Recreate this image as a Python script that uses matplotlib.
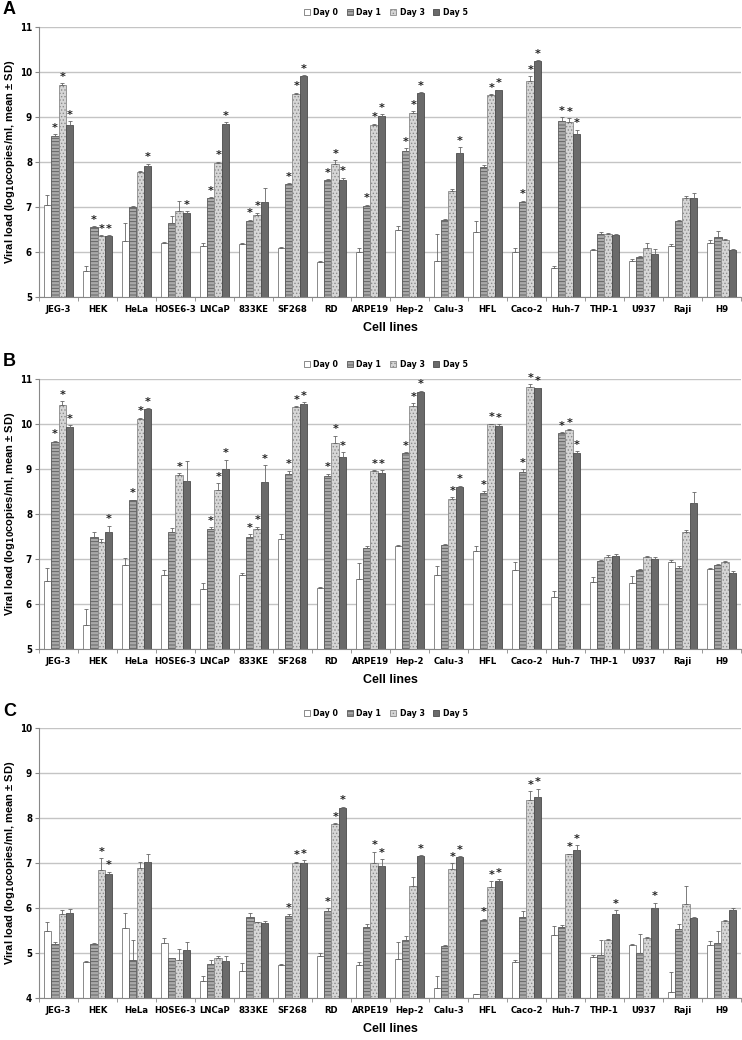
import matplotlib
matplotlib.use("Agg")
import matplotlib.pyplot as plt
import numpy as np

plt.rcParams['hatch.linewidth'] = 0.6

# Data
cell_lines = ["JEG-3", "HEK", "HeLa", "HOSE6-3", "LNCaP", "833KE", "SF268", "RD", "ARPE19",
              "Hep-2", "Calu-3", "HFL", "Caco-2", "Huh-7", "THP-1", "U937", "Raji", "H9"]
days = ["Day 0", "Day 1", "Day 3", "Day 5"]

# Panel A: means (Day 0, 1, 3, 5) per cell line
a_mean = [[7.05, 8.58, 9.72, 8.82], [5.57, 6.55, 6.36, 6.36], [6.24, 6.99, 7.78, 7.91],
          [6.20, 6.64, 6.92, 6.86], [6.13, 7.20, 7.98, 8.84], [6.17, 6.70, 6.82, 7.11],
          [6.10, 7.51, 9.52, 9.92], [5.77, 7.59, 7.96, 7.60], [6.00, 7.03, 8.82, 9.03],
          [6.48, 8.25, 9.10, 9.53], [5.80, 6.72, 7.36, 8.21], [6.44, 7.90, 9.48, 9.59],
          [6.00, 7.12, 9.80, 10.24], [5.65, 8.90, 8.89, 8.62], [6.05, 6.41, 6.40, 6.37],
          [5.79, 5.90, 6.10, 5.96], [6.13, 6.69, 7.21, 7.21], [6.20, 6.34, 6.27, 6.05]]
a_err = [[0.22, 0.04, 0.03, 0.08], [0.12, 0.03, 0.02, 0.02], [0.40, 0.03, 0.02, 0.05],
         [0.03, 0.16, 0.22, 0.05], [0.08, 0.02, 0.03, 0.05], [0.02, 0.02, 0.05, 0.32],
         [0.02, 0.02, 0.02, 0.01], [0.04, 0.03, 0.08, 0.05], [0.08, 0.02, 0.03, 0.03],
         [0.09, 0.06, 0.03, 0.02], [0.60, 0.02, 0.03, 0.12], [0.26, 0.03, 0.03, 0.02],
         [0.08, 0.02, 0.10, 0.02], [0.03, 0.10, 0.08, 0.10], [0.02, 0.03, 0.03, 0.02],
         [0.06, 0.02, 0.10, 0.10], [0.05, 0.02, 0.03, 0.10], [0.07, 0.12, 0.02, 0.02]]
a_star = [[0, 1, 1, 1], [0, 1, 1, 1], [0, 0, 0, 1], [0, 0, 0, 1], [0, 1, 1, 1], [0, 1, 1, 0],
          [0, 1, 1, 1], [0, 1, 1, 1], [0, 1, 1, 1], [0, 1, 1, 1], [0, 0, 0, 1], [0, 0, 1, 1],
          [0, 1, 1, 1], [0, 1, 1, 1], [0, 0, 0, 0], [0, 0, 0, 0], [0, 0, 0, 0], [0, 0, 0, 0]]

# Panel B
b_mean = [[6.52, 9.60, 10.43, 9.93], [5.53, 7.50, 7.37, 7.61], [6.87, 8.30, 10.12, 10.33],
          [6.65, 7.60, 8.86, 8.74], [6.33, 7.66, 8.54, 8.99], [6.64, 7.50, 7.67, 8.72],
          [7.45, 8.90, 10.37, 10.45], [6.35, 8.85, 9.57, 9.26], [6.55, 7.25, 8.96, 8.92],
          [7.29, 9.35, 10.40, 10.72], [6.64, 7.31, 8.33, 8.60], [7.18, 8.46, 9.99, 9.96],
          [6.76, 8.94, 10.83, 10.79], [6.15, 9.80, 9.87, 9.35], [6.49, 6.96, 7.05, 7.06],
          [6.47, 6.76, 7.05, 7.00], [6.93, 6.80, 7.61, 8.24], [6.77, 6.87, 6.93, 6.70]]
b_err = [[0.28, 0.03, 0.08, 0.05], [0.37, 0.10, 0.07, 0.13], [0.15, 0.02, 0.02, 0.02],
         [0.10, 0.10, 0.05, 0.43], [0.13, 0.05, 0.15, 0.22], [0.04, 0.05, 0.05, 0.36],
         [0.10, 0.06, 0.02, 0.04], [0.02, 0.05, 0.17, 0.12], [0.37, 0.03, 0.02, 0.05],
         [0.02, 0.02, 0.06, 0.02], [0.20, 0.02, 0.04, 0.03], [0.12, 0.05, 0.02, 0.03],
         [0.18, 0.05, 0.06, 0.02], [0.15, 0.02, 0.02, 0.04], [0.10, 0.02, 0.03, 0.05],
         [0.15, 0.02, 0.02, 0.04], [0.05, 0.05, 0.03, 0.25], [0.02, 0.03, 0.02, 0.04]]
b_star = [[0, 1, 1, 1], [0, 0, 0, 1], [0, 1, 1, 1], [0, 0, 1, 0], [0, 1, 1, 1], [0, 1, 1, 1],
          [0, 1, 1, 1], [0, 1, 1, 1], [0, 0, 1, 1], [0, 1, 1, 1], [0, 0, 1, 1], [0, 1, 1, 1],
          [0, 1, 1, 1], [0, 1, 1, 1], [0, 0, 0, 0], [0, 0, 0, 0], [0, 0, 0, 0], [0, 0, 0, 0]]

# Panel C
c_mean = [[5.48, 5.20, 5.86, 5.88], [4.81, 5.20, 6.84, 6.76], [5.56, 4.85, 6.88, 7.03],
          [5.23, 4.88, 4.85, 5.07], [4.37, 4.76, 4.88, 4.83], [4.59, 5.79, 5.68, 5.66],
          [4.74, 5.82, 7.01, 7.00], [4.93, 5.94, 7.87, 8.23], [4.74, 5.58, 7.00, 6.93],
          [4.87, 5.28, 6.48, 7.16], [4.23, 5.16, 6.87, 7.13], [4.08, 5.74, 6.47, 6.61],
          [4.79, 5.80, 8.41, 8.47], [5.41, 5.57, 7.19, 7.30], [4.92, 4.95, 5.30, 5.87],
          [5.18, 4.99, 5.34, 6.00], [4.13, 5.54, 6.09, 5.77], [5.17, 5.23, 5.71, 5.95]]
c_err = [[0.20, 0.05, 0.10, 0.10], [0.02, 0.02, 0.27, 0.05], [0.32, 0.43, 0.15, 0.18],
         [0.10, 0.02, 0.25, 0.17], [0.12, 0.08, 0.05, 0.10], [0.18, 0.10, 0.02, 0.06],
         [0.02, 0.04, 0.02, 0.06], [0.08, 0.05, 0.02, 0.02], [0.05, 0.07, 0.25, 0.15],
         [0.38, 0.10, 0.20, 0.02], [0.27, 0.02, 0.13, 0.02], [0.02, 0.02, 0.12, 0.03],
         [0.06, 0.14, 0.18, 0.18], [0.18, 0.05, 0.02, 0.10], [0.04, 0.33, 0.02, 0.08],
         [0.03, 0.44, 0.02, 0.12], [0.44, 0.10, 0.40, 0.02], [0.10, 0.27, 0.03, 0.05]]
c_star = [[0, 0, 0, 0], [0, 0, 1, 1], [0, 0, 0, 0], [0, 0, 0, 0], [0, 0, 0, 0], [0, 0, 0, 0],
          [0, 1, 1, 1], [0, 1, 1, 1], [0, 0, 1, 1], [0, 0, 0, 1], [0, 0, 1, 1], [0, 1, 1, 1],
          [0, 0, 1, 1], [0, 0, 1, 1], [0, 0, 0, 1], [0, 0, 0, 1], [0, 0, 0, 0], [0, 0, 0, 0]]

panels = [("A", a_mean, a_err, a_star, (5, 11)),
          ("B", b_mean, b_err, b_star, (5, 11)),
          ("C", c_mean, c_err, c_star, (4, 10))]

face = ["white", "#a9a9a9", "#d6d6d6", "#6a6a6a"]
hatch = [None, "-----", ".....", None]
edge = ["#777777", "#5a5a5a", "#8a8a8a", "#4a4a4a"]
narrow = {"family": "DejaVu Sans", "stretch": "condensed", "weight": "bold"}

fig = plt.figure(figsize=(7.42, 10.40), dpi=100)
# axes placement in pixels: (top, bottom)
frames = [(27, 297), (379, 649), (728, 998)]
W, H = 742, 1040
x = np.arange(len(cell_lines))
bw = 0.19

for (letter, mean, err, star, ylim), (top, bot) in zip(panels, frames):
    ax = fig.add_axes([39 / W, 1 - bot / H, 702 / W, (bot - top) / H])
    mean = np.array(mean)
    err = np.array(err)
    star = np.array(star)
    ax.set_axisbelow(True)
    ax.yaxis.grid(True, color="#c4c4c4", lw=1.0)
    for d in range(4):
        xs = x + (d - 1.5) * bw
        ax.bar(xs, mean[:, d], bw, color=face[d], edgecolor=edge[d], hatch=hatch[d],
               lw=0.6, label=days[d], zorder=2)
        ax.errorbar(xs, mean[:, d], yerr=[np.zeros(len(x)), err[:, d]], fmt="none",
                    ecolor="#666666", elinewidth=0.6, capsize=1.2, capthick=0.6, zorder=3)
        for i in range(len(x)):
            if star[i, d]:
                ax.text(xs[i], mean[i, d] + err[i, d] + 0.03, "*", ha="center", va="bottom",
                        fontsize=8, fontweight="bold", color="#222222")
    ax.set_ylim(*ylim)
    ax.set_xlim(-0.5, len(x) - 0.5)
    ax.set_yticks(np.arange(ylim[0], ylim[1] + 1))
    ax.set_xticks(x)
    ax.set_xticklabels(cell_lines, fontsize=6.8, **narrow)
    ax.set_xticks(np.arange(-0.5, len(x)), minor=True)
    ax.tick_params(axis="x", which="major", length=0, pad=6)
    ax.tick_params(axis="x", which="minor", length=3, color="#888888")
    ax.tick_params(axis="y", length=3, color="#888888", pad=2)
    for lab in ax.get_yticklabels():
        lab.set_family("DejaVu Sans")
        lab.set_stretch("condensed")
        lab.set_fontweight("bold")
        lab.set_fontsize(7)
    for s in ["top", "right"]:
        ax.spines[s].set_visible(False)
    for s in ["left", "bottom"]:
        ax.spines[s].set_color("#888888")
        ax.spines[s].set_linewidth(0.8)
    ax.set_ylabel(r"Viral load (log$_{\mathbf{10}}$copies/ml, mean ± SD)",
                  fontsize=8, fontweight="bold", family="Liberation Sans")
    ax.yaxis.set_label_coords(-0.032, 0.5)
    ax.set_xlabel("Cell lines", fontsize=9, fontweight="bold", family="Liberation Sans")
    ax.xaxis.set_label_coords(0.5, -0.092)
    ax.legend(ncol=4, loc="center", bbox_to_anchor=(0.494, 1.052), frameon=False,
              handlelength=0.7, handleheight=0.7, handletextpad=0.4, columnspacing=1.0,
              prop={"family": "DejaVu Sans", "stretch": "condensed", "weight": "bold", "size": 6.3})
    fig.text(3 / W, 1 - (top - 17) / H, letter, fontsize=13, fontweight="bold",
             family="Liberation Sans", va="center", ha="left")

fig.savefig("out.png", dpi=100)
